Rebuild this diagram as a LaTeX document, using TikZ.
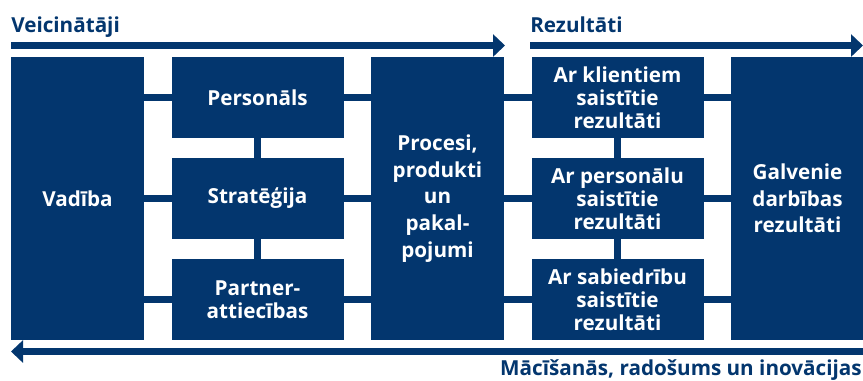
\documentclass[tikz,border=0pt]{standalone}
\usepackage{fontspec}
\setmainfont{Open Sans}
\usetikzlibrary{positioning,arrows.meta}
\definecolor{efqmblue}{RGB}{3,54,110}

\begin{document}
\begin{tikzpicture}[x=0.75pt,y=-0.75pt,node distance=75.75pt and 135pt,on grid,
  box/.style={fill=efqmblue,text=white,font=\bfseries\fontsize{15.5}{17.25}\selectfont,
    align=center,inner sep=0pt,outer sep=0pt},
  tall/.style={box,minimum width=99.75pt,minimum height=212.25pt,
    font=\bfseries\fontsize{15.5}{20}\selectfont},
  small/.style={box,minimum width=129pt,minimum height=60.75pt},
  link/.style={efqmblue,line width=5.6pt},
  flow/.style={efqmblue,line width=5.25pt,-{Triangle[length=9pt,width=16.5pt]}},
  title/.style={text=efqmblue,font=\bfseries\fontsize{15.5}{17.5}\selectfont,inner sep=0pt}]
  \useasboundingbox (0,0) rectangle (863,380);

  % enablers
  \node[tall] (vad) at (77.5,198.5) {Vadība};
  \node[small] (pers) [above right=of vad] {Personāls};
  \node[small] (strat) [right=of vad] {Stratēģija};
  \node[small] (partn) [below right=of vad] {Partner-\\attiecības};
  \node[tall] (proc) [right=of strat] {Procesi,\\produkti\\un\\pakal-\\pojumi};
  % results
  \node[small] (klient) [above right=of proc] {Ar klientiem\\saistītie\\rezultāti};
  \node[small] (perres) [right=of proc] {Ar personālu\\saistītie\\rezultāti};
  \node[small] (sabied) [below right=of proc] {Ar sabiedrību\\saistītie\\rezultāti};
  \node[tall] (galv) [right=of perres] {Galvenie\\darbības\\rezultāti};

  \path[link]
    (vad.east |- pers.west) edge (pers.west)
    (vad.east |- strat.west) edge (strat.west)
    (vad.east |- partn.west) edge (partn.west)
    (pers.east) edge (proc.west |- pers.east)
    (strat.east) edge (proc.west |- strat.east)
    (partn.east) edge (proc.west |- partn.east)
    (pers.south) edge (strat.north)
    (strat.south) edge (partn.north)
    (proc.east |- klient.west) edge (klient.west)
    (proc.east |- perres.west) edge (perres.west)
    (proc.east |- sabied.west) edge (sabied.west)
    (klient.east) edge (galv.west |- klient.east)
    (perres.east) edge (galv.west |- perres.east)
    (sabied.east) edge (galv.west |- sabied.east)
    (klient.south) edge (perres.north)
    (perres.south) edge (sabied.north);

  % arrows
  \coordinate (drvS) at (11,45.5);
  \coordinate (drvE) at (505,45.5);
  \coordinate (resS) at (530,45.5);
  \coordinate (resE) at (863,45.5);
  \coordinate (lrnS) at (863,351.5);
  \coordinate (lrnE) at (11,351.5);
  \draw[flow] (drvS) -- (drvE);
  \draw[flow] (resS) -- (resE);
  \draw[flow] (lrnS) -- (lrnE);

  \node[title,anchor=base west] (drvlbl) at (11,32) {Veicinātāji};
  \node[title,anchor=base west] (reslbl) at (530,32) {Rezultāti};
  \node[title,anchor=base east] (lrnlbl) at (862,375) {Mācīšanās, radošums un inovācijas};
\end{tikzpicture}
\end{document}
